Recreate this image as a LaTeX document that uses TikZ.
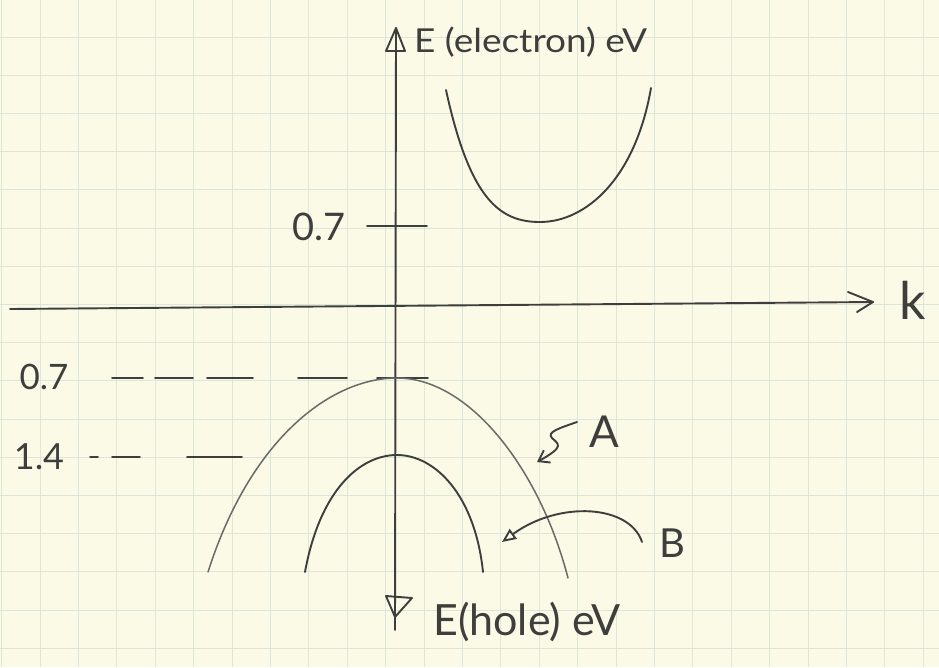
\documentclass[tikz,border=0pt]{standalone}
\usepackage{fontspec}
\setmainfont{Lato}
\usetikzlibrary{arrows.meta}
\definecolor{paper}{HTML}{FBFAE6}
\definecolor{gridc}{HTML}{DCE7D9}
\definecolor{pencil}{HTML}{3E3E3C}
\definecolor{pencilL}{HTML}{6A6A66}
\begin{document}
\begin{tikzpicture}[x=1pt,y=-1pt,
  ink/.style={draw=pencil,line width=1.9pt,line cap=round,line join=round},
  soft/.style={draw=pencilL,line width=1.5pt,line cap=round,line join=round},
  lbl/.style={text=pencil,inner sep=0pt},
  gridline/.style={draw=gridc,line width=0.9pt}]
\fill[paper] (0,0) rectangle (939,667);
\useasboundingbox (0,0) rectangle (939,667);
% grid paper
\foreach \i in {0,...,24} \draw[gridline] ({1.6+38.4*\i},0) -- ++(0,667);
\foreach \j in {0,...,16} \draw[gridline] (0,{37+38.2*\j}) -- ++(939,0);

% labels
\node[lbl,anchor=west] (elab) at (414,42) {\scalebox{1.12}[1]{\fontsize{33}{33}\selectfont E (electron) eV}};
\node[lbl,anchor=west] (hlab) at (433,622) {\fontsize{43}{43}\selectfont E(hole) eV};
\node[lbl] (klab) at (913,300) {\fontsize{52}{52}\selectfont k};
\node[lbl] (t07) at (319,227) {\fontsize{38}{38}\selectfont 0.7};
\node[lbl] (h07) at (44,377) {\fontsize{35}{35}\selectfont 0.7};
\node[lbl] (h14) at (39,457) {\fontsize{36}{36}\selectfont 1.4};
\node[lbl] (Alab) at (604,432) {\fontsize{44}{44}\selectfont A};
\node[lbl] (Blab) at (672,543) {\fontsize{40}{40}\selectfont B};

% axes
\coordinate (vtop) at (396,28);
\coordinate (vbot) at (395,630);
\coordinate (hleft) at (10,309);
\coordinate (hright) at (873,302);
\draw[ink] (vtop) -- (vbot);
\draw[ink] (vtop) -- (386,51) -- (405,51) -- cycle;
\draw[ink] (386,596) -- (412,598) -- (395,617) -- cycle;
\draw[ink] (hleft) -- (hright);
\draw[ink] (848,292) -- (hright) -- (857,312);

% electron band
\draw[ink] (446,90) .. controls (470,200) and (500,222) .. (540,222)
  .. controls (585,222) and (635,180) .. (651,88);
\draw[ink] (367,226) -- (427,226);

% hole levels
\foreach \a/\b in {112/143,155/193,207/253,298/347,377/428}
  \draw[ink] (\a,378) -- (\b,378);
\foreach \a/\b in {90/98,112/140,187/242}
  \draw[ink] (\a,457) -- (\b,457);

% hole bands
\draw[soft] (208,572) .. controls (250,440) and (330,378) .. (397,378)
  .. controls (470,378) and (540,470) .. (568,578);
\draw[ink] (305,572) .. controls (320,490) and (360,455) .. (397,455)
  .. controls (435,455) and (475,495) .. (483,572);

% pointers
\coordinate (a0) at (577,422);
\coordinate (Atip) at (537,462);
\draw[ink,-{Straight Barb[length=10pt,width=14pt]}] (a0) .. controls (560,428) and (546,432) .. (552,438) .. controls (558,444) and (566,446) .. (Atip);
\coordinate (b0) at (642,542);
\coordinate (Btip) at (502,542);
\draw[ink,-{Triangle[open,length=14pt,width=12pt]}] (b0) .. controls (630,505) and (560,500) .. (Btip);
\end{tikzpicture}
\end{document}
